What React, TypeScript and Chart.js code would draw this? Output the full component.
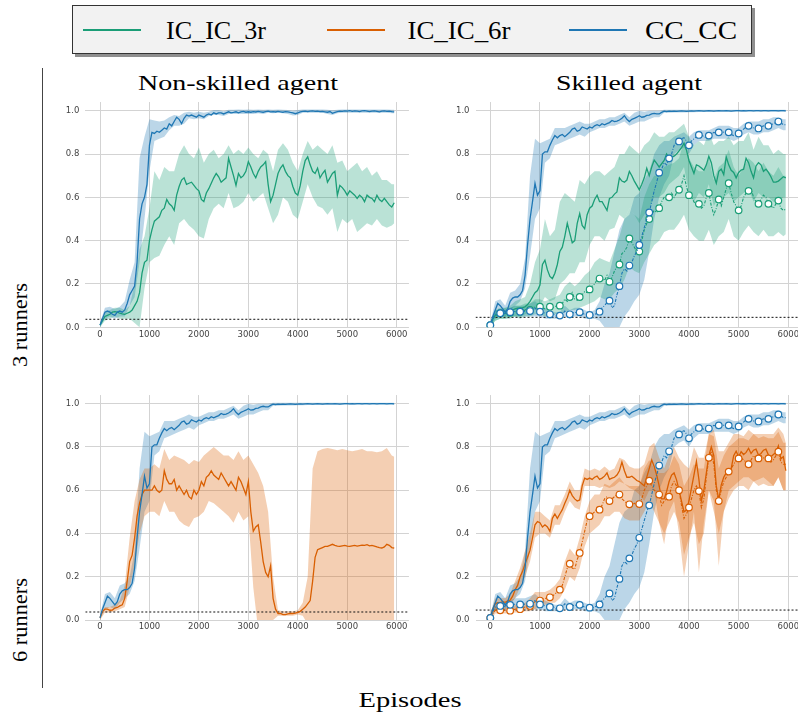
import React, { useEffect, useRef } from "react";
import { Chart, registerables } from "chart.js";

Chart.register(...registerables);

// ---------- categories ----------
const EPISODES: number[] = Array.from({ length: 120 }, (_, i) => i * 50); // 0..5950 (mean lines)
const BAND_EPISODES: number[] = [...Array.from({ length: 60 }, (_, i) => i * 100), 5950]; // 0..5900, 5950
const X_TICKS = [0, 1000, 2000, 3000, 4000, 5000, 6000];
const Y_TICKS = [0, 0.2, 0.4, 0.6, 0.8, 1.0];
const LEGEND_LABELS = ["IC_IC_3r", "IC_IC_6r", "CC_CC"];
const COL_TITLES = ["Non-skilled agent", "Skilled agent"];
const ROW_TITLES = ["3 runners", "6 runners"];
const X_LABEL = "Episodes";

// chance levels (dotted black line)
const CHANCE_NON_SKILLED = 0.037;
const CHANCE_SKILLED = 0.046;

// ---------- CC_CC, non-skilled, 3 runners ----------
const TL_BLUE = [
  0.01, 0.04, 0.07, 0.075, 0.07, 0.06, 0.055, 0.07, 0.075, 0.07,
  0.08, 0.11, 0.15, 0.17, 0.19, 0.3, 0.5, 0.57, 0.6, 0.66,
  0.84, 0.9, 0.895, 0.905, 0.9, 0.91, 0.92, 0.915, 0.94, 0.93,
  0.95, 0.97, 0.96, 0.94, 0.965, 0.98, 0.975, 0.98, 0.975, 0.97,
  0.98, 0.975, 0.97, 0.98, 0.985, 0.98, 0.99, 0.985, 0.99, 0.99,
  0.985, 0.99, 0.995, 0.99, 0.992, 0.995, 0.99, 0.995, 0.997, 0.993,
  0.995, 0.993, 0.996, 0.994, 0.997, 0.995, 0.993, 0.996, 0.998, 0.995,
  0.996, 0.994, 0.997, 0.995, 0.993, 0.996, 0.995, 0.992, 0.99, 0.986,
  0.99, 0.995, 0.997, 0.998, 0.996, 0.998, 0.999, 0.997, 0.998, 0.996,
  0.997, 0.995, 0.993, 0.996, 0.988, 0.992, 0.996, 0.998, 0.997, 0.999,
  0.998, 1.0, 0.997, 0.999, 0.998, 0.996, 0.999, 1.0, 0.998, 0.996,
  0.998, 0.999, 0.997, 0.995, 0.998, 0.999, 0.997, 0.998, 0.996, 0.995,
];
const TL_BLUE_LO = [
  0.0, 0.04, 0.05, 0.04, 0.05, 0.05, 0.1, 0.14, 0.3, 0.5,
  0.72, 0.86, 0.87, 0.88, 0.91, 0.93, 0.93, 0.94, 0.965, 0.96,
  0.965, 0.96, 0.975, 0.98, 0.98, 0.975, 0.985, 0.985, 0.985, 0.985,
  0.985, 0.985, 0.988, 0.985, 0.99, 0.988, 0.99, 0.988, 0.985, 0.978,
  0.98, 0.99, 0.99, 0.99, 0.99, 0.99, 0.985, 0.98, 0.988, 0.99,
  0.99, 0.99, 0.99, 0.99, 0.99, 0.99, 0.99, 0.99, 0.99, 0.988, 0.988,
];
const TL_BLUE_HI = [
  0.02, 0.09, 0.095, 0.085, 0.095, 0.12, 0.22, 0.3, 0.78, 0.88,
  0.96, 0.955, 0.95, 0.955, 0.97, 0.98, 0.975, 0.99, 0.995, 0.99,
  0.995, 0.99, 0.995, 1.003, 1.003, 0.998, 1.004, 1.004, 1.005, 1.004,
  1.005, 1.004, 1.005, 1.004, 1.005, 1.004, 1.005, 1.004, 1.003, 1.0,
  1.003, 1.005, 1.005, 1.005, 1.005, 1.005, 1.004, 1.002, 1.004, 1.005,
  1.005, 1.005, 1.005, 1.005, 1.005, 1.005, 1.005, 1.005, 1.005, 1.004, 1.004,
];

// ---------- IC_IC_3r, non-skilled ----------
const TL_GREEN = [
  0.01, 0.03, 0.05, 0.055, 0.06, 0.07, 0.072, 0.07, 0.065, 0.062,
  0.06, 0.065, 0.07, 0.08, 0.1, 0.12, 0.16, 0.25, 0.3, 0.31,
  0.4, 0.45, 0.49, 0.5, 0.51, 0.54, 0.55, 0.59, 0.57, 0.56,
  0.54, 0.61, 0.65, 0.68, 0.69, 0.66, 0.665, 0.67, 0.655, 0.64,
  0.63, 0.59, 0.58, 0.62, 0.64, 0.665, 0.69, 0.71, 0.695, 0.67,
  0.68, 0.69, 0.78, 0.74, 0.7, 0.655, 0.71, 0.69, 0.7, 0.72,
  0.765, 0.74, 0.71, 0.69, 0.72, 0.74, 0.75, 0.765, 0.66, 0.58,
  0.61, 0.66, 0.71, 0.735, 0.75, 0.72, 0.7, 0.69, 0.65, 0.62,
  0.61, 0.655, 0.72, 0.77, 0.787, 0.75, 0.72, 0.71, 0.735, 0.69,
  0.71, 0.725, 0.67, 0.69, 0.71, 0.72, 0.61, 0.655, 0.645, 0.63,
  0.61, 0.63, 0.62, 0.61, 0.595, 0.61, 0.6, 0.58, 0.61, 0.6,
  0.595, 0.58, 0.61, 0.59, 0.58, 0.595, 0.58, 0.565, 0.555, 0.575,
];
const TL_GREEN_LO = [
  0.0, 0.03, 0.04, 0.05, 0.04, 0.04, 0.04, 0.02, 0.0, 0.18,
  0.3, 0.32, 0.33, 0.38, 0.42, 0.38, 0.48, 0.5, 0.47, 0.45,
  0.42, 0.41, 0.5, 0.55, 0.57, 0.55, 0.62, 0.55, 0.56, 0.58,
  0.62, 0.58, 0.6, 0.62, 0.55, 0.48, 0.52, 0.6, 0.58, 0.52,
  0.5, 0.58, 0.66, 0.6, 0.56, 0.55, 0.52, 0.55, 0.44, 0.5,
  0.48, 0.5, 0.44, 0.46, 0.48, 0.47, 0.5, 0.47, 0.46, 0.47, 0.48,
];
const TL_GREEN_HI = [
  0.02, 0.07, 0.08, 0.09, 0.09, 0.08, 0.1, 0.2, 0.36, 0.42,
  0.55, 0.72, 0.68, 0.74, 0.72, 0.72, 0.8, 0.84, 0.8, 0.78,
  0.83, 0.76, 0.8, 0.82, 0.78, 0.8, 0.84, 0.8, 0.82, 0.8,
  0.83, 0.8, 0.78, 0.82, 0.8, 0.72, 0.82, 0.85, 0.82, 0.76,
  0.72, 0.8, 0.86, 0.82, 0.84, 0.82, 0.8, 0.84, 0.76, 0.77,
  0.72, 0.74, 0.76, 0.72, 0.74, 0.7, 0.72, 0.68, 0.68, 0.66, 0.66,
];

// ---------- CC_CC, skilled (solid) ----------
const CC_SOLID = [
  0.01, 0.05, 0.08, 0.11, 0.1, 0.085, 0.07, 0.085, 0.12, 0.135,
  0.14, 0.14, 0.15, 0.17, 0.24, 0.38, 0.5, 0.58, 0.665, 0.61,
  0.63, 0.8, 0.81, 0.81, 0.84, 0.865, 0.885, 0.875, 0.885, 0.89,
  0.88, 0.89, 0.9, 0.915, 0.92, 0.905, 0.91, 0.925, 0.92, 0.915,
  0.925, 0.92, 0.93, 0.935, 0.93, 0.94, 0.935, 0.94, 0.945, 0.955,
  0.95, 0.952, 0.957, 0.965, 0.977, 0.96, 0.95, 0.96, 0.965, 0.97,
  0.977, 0.97, 0.972, 0.978, 0.98, 0.985, 0.988, 0.985, 0.985, 0.992,
  0.998, 0.996, 0.998, 0.997, 0.998, 0.997, 0.998, 0.999, 0.998, 0.997,
  0.998, 0.999, 0.998, 0.999, 1.0, 0.999, 0.998, 0.999, 1.0, 0.999,
  0.998, 0.999, 1.0, 0.999, 0.999, 1.0, 0.999, 0.998, 0.999, 1.0,
  1.0, 0.999, 1.0, 0.999, 1.0, 1.0, 0.999, 1.0, 1.0, 0.999,
  1.0, 1.0, 0.999, 1.0, 1.0, 1.0, 0.999, 1.0, 1.0, 0.999,
];
const CC_SOLID_LO = [
  0.0, 0.05, 0.06, 0.05, 0.08, 0.1, 0.12, 0.18, 0.33, 0.5,
  0.55, 0.76, 0.78, 0.84, 0.85, 0.86, 0.87, 0.88, 0.89, 0.88,
  0.9, 0.91, 0.92, 0.92, 0.93, 0.93, 0.94, 0.95, 0.93, 0.94,
  0.95, 0.95, 0.96, 0.97, 0.97, 0.99, 0.99, 0.992, 0.992, 0.992,
  0.993, 0.993, 0.994, 0.994, 0.994, 0.994, 0.995, 0.995, 0.995, 0.995,
  0.995, 0.995, 0.995, 0.995, 0.995, 0.995, 0.995, 0.995, 0.995, 0.995, 0.995,
];
const CC_SOLID_HI = [
  0.02, 0.12, 0.13, 0.1, 0.16, 0.17, 0.2, 0.32, 0.7, 0.87,
  0.85, 0.86, 0.87, 0.92, 0.92, 0.92, 0.93, 0.94, 0.95, 0.94,
  0.94, 0.95, 0.96, 0.96, 0.97, 0.97, 0.98, 0.99, 0.97, 0.99,
  1.0, 0.995, 1.0, 1.0, 1.0, 1.004, 1.004, 1.004, 1.004, 1.004,
  1.004, 1.004, 1.004, 1.004, 1.004, 1.004, 1.004, 1.004, 1.004, 1.004,
  1.004, 1.004, 1.004, 1.004, 1.004, 1.004, 1.004, 1.004, 1.004, 1.004, 1.004,
];

// ---------- CC_CC, skilled (dotted, markers) ----------
const CC_DOT = [
  0.01, 0.04, 0.06, 0.065, 0.065, 0.06, 0.065, 0.07, 0.07, 0.065,
  0.075, 0.07, 0.072, 0.08, 0.07, 0.078, 0.075, 0.08, 0.09, 0.075,
  0.072, 0.07, 0.065, 0.07, 0.06, 0.065, 0.055, 0.05, 0.054, 0.06,
  0.075, 0.065, 0.06, 0.065, 0.07, 0.065, 0.07, 0.065, 0.06, 0.06,
  0.057, 0.055, 0.06, 0.065, 0.072, 0.09, 0.1, 0.115, 0.123, 0.09,
  0.1, 0.15, 0.19, 0.25, 0.27, 0.26, 0.285, 0.3, 0.33, 0.35,
  0.38, 0.42, 0.46, 0.5, 0.53, 0.58, 0.63, 0.67, 0.714, 0.73,
  0.76, 0.75, 0.78, 0.8, 0.84, 0.86, 0.858, 0.87, 0.875, 0.86,
  0.84, 0.86, 0.87, 0.88, 0.888, 0.89, 0.88, 0.875, 0.885, 0.89,
  0.9, 0.895, 0.9, 0.905, 0.9, 0.895, 0.9, 0.89, 0.885, 0.89,
  0.895, 0.905, 0.915, 0.925, 0.93, 0.925, 0.92, 0.915, 0.918, 0.925,
  0.93, 0.925, 0.93, 0.935, 0.94, 0.945, 0.95, 0.945, 0.935, 0.935,
];
const CC_DOT_LO = [
  0.0, 0.04, 0.05, 0.05, 0.05, 0.05, 0.05, 0.05, 0.05, 0.05,
  0.05, 0.04, 0.04, 0.04, 0.04, 0.05, 0.04, 0.05, 0.05, 0.04,
  0.04, 0.04, 0.03, 0.0, -0.02, 0.0, 0.0, 0.05, 0.08, 0.12,
  0.15, 0.22, 0.35, 0.5, 0.6, 0.66, 0.7, 0.8, 0.82, 0.83,
  0.8, 0.84, 0.86, 0.86, 0.86, 0.87, 0.87, 0.87, 0.87, 0.86,
  0.87, 0.89, 0.9, 0.89, 0.89, 0.9, 0.9, 0.91, 0.92, 0.91, 0.91,
];
const CC_DOT_HI = [
  0.02, 0.08, 0.08, 0.08, 0.09, 0.1, 0.1, 0.1, 0.11, 0.12,
  0.1, 0.09, 0.08, 0.07, 0.07, 0.1, 0.08, 0.09, 0.09, 0.08,
  0.07, 0.08, 0.12, 0.2, 0.25, 0.35, 0.45, 0.5, 0.52, 0.6,
  0.62, 0.68, 0.72, 0.8, 0.84, 0.86, 0.86, 0.88, 0.89, 0.9,
  0.88, 0.9, 0.91, 0.91, 0.91, 0.92, 0.93, 0.93, 0.93, 0.92,
  0.92, 0.94, 0.95, 0.95, 0.95, 0.96, 0.96, 0.97, 0.97, 0.96, 0.96,
];

// ---------- IC_IC_3r, skilled (solid) ----------
const IC3_SOLID = [
  0.01, 0.04, 0.055, 0.06, 0.058, 0.06, 0.065, 0.07, 0.078, 0.08,
  0.085, 0.088, 0.09, 0.09, 0.095, 0.105, 0.12, 0.14, 0.16, 0.17,
  0.195, 0.29, 0.31, 0.265, 0.235, 0.225, 0.25, 0.29, 0.35, 0.37,
  0.42, 0.48, 0.435, 0.39, 0.4, 0.48, 0.525, 0.47, 0.455, 0.52,
  0.55, 0.56, 0.59, 0.61, 0.58, 0.58, 0.56, 0.54, 0.595, 0.6,
  0.615, 0.625, 0.69, 0.675, 0.67, 0.68, 0.72, 0.7, 0.675, 0.655,
  0.635, 0.66, 0.69, 0.734, 0.7, 0.74, 0.772, 0.757, 0.74, 0.755,
  0.77, 0.8, 0.78, 0.785, 0.79, 0.8, 0.815, 0.83, 0.85, 0.818,
  0.77, 0.74, 0.71, 0.75, 0.745, 0.735, 0.725, 0.75, 0.79, 0.76,
  0.7, 0.665, 0.72, 0.73, 0.705, 0.787, 0.75, 0.725, 0.715, 0.69,
  0.715, 0.726, 0.73, 0.78, 0.76, 0.72, 0.69, 0.745, 0.76, 0.75,
  0.72, 0.73, 0.715, 0.695, 0.67, 0.67, 0.675, 0.685, 0.695, 0.69,
];
const IC3_SOLID_LO = [
  0.0, 0.03, 0.04, 0.04, 0.05, 0.05, 0.05, 0.06, 0.07, 0.08,
  0.1, 0.14, 0.12, 0.13, 0.2, 0.22, 0.25, 0.25, 0.3, 0.3,
  0.38, 0.42, 0.42, 0.4, 0.45, 0.46, 0.52, 0.5, 0.55, 0.52,
  0.48, 0.52, 0.55, 0.6, 0.6, 0.62, 0.66, 0.68, 0.7, 0.74,
  0.62, 0.58, 0.62, 0.6, 0.66, 0.56, 0.6, 0.6, 0.62, 0.58,
  0.6, 0.62, 0.64, 0.58, 0.62, 0.6, 0.6, 0.58, 0.58, 0.6, 0.6,
];
const IC3_SOLID_HI = [
  0.02, 0.08, 0.08, 0.09, 0.1, 0.12, 0.13, 0.14, 0.2, 0.3,
  0.36, 0.5, 0.42, 0.45, 0.58, 0.62, 0.6, 0.58, 0.68, 0.66,
  0.7, 0.72, 0.72, 0.7, 0.72, 0.74, 0.8, 0.8, 0.84, 0.82,
  0.8, 0.84, 0.86, 0.9, 0.88, 0.88, 0.9, 0.9, 0.92, 0.94,
  0.88, 0.84, 0.86, 0.84, 0.9, 0.84, 0.86, 0.86, 0.88, 0.84,
  0.86, 0.86, 0.9, 0.82, 0.88, 0.84, 0.84, 0.8, 0.82, 0.8, 0.8,
];

// ---------- IC_IC_3r, skilled (dotted, markers) ----------
const IC3_DOT = [
  0.01, 0.04, 0.055, 0.06, 0.065, 0.06, 0.065, 0.07, 0.067, 0.065,
  0.07, 0.075, 0.072, 0.07, 0.08, 0.085, 0.08, 0.09, 0.095, 0.1,
  0.095, 0.09, 0.085, 0.09, 0.095, 0.09, 0.095, 0.1, 0.1, 0.11,
  0.13, 0.12, 0.14, 0.16, 0.13, 0.125, 0.14, 0.15, 0.165, 0.16,
  0.175, 0.19, 0.2, 0.22, 0.225, 0.23, 0.215, 0.24, 0.21, 0.23,
  0.26, 0.28, 0.29, 0.34, 0.35, 0.37, 0.41, 0.39, 0.37, 0.35,
  0.35, 0.4, 0.45, 0.48, 0.5, 0.52, 0.54, 0.53, 0.55, 0.58,
  0.6, 0.59, 0.6, 0.62, 0.6, 0.62, 0.635, 0.66, 0.7, 0.65,
  0.61, 0.6, 0.58, 0.56, 0.57, 0.55, 0.56, 0.6, 0.62, 0.56,
  0.52, 0.55, 0.59, 0.56, 0.6, 0.64, 0.665, 0.62, 0.58, 0.56,
  0.54, 0.56, 0.6, 0.62, 0.63, 0.64, 0.6, 0.58, 0.57, 0.59,
  0.61, 0.6, 0.57, 0.56, 0.55, 0.57, 0.585, 0.55, 0.54, 0.545,
];
const IC3_DOT_LO = [
  0.0, 0.03, 0.04, 0.04, 0.04, 0.05, 0.04, 0.05, 0.05, 0.06,
  0.06, 0.05, 0.06, 0.06, 0.06, 0.07, 0.08, 0.08, 0.09, 0.1,
  0.11, 0.12, 0.14, 0.13, 0.13, 0.16, 0.18, 0.22, 0.28, 0.26,
  0.25, 0.3, 0.34, 0.38, 0.4, 0.44, 0.45, 0.45, 0.48, 0.52,
  0.45, 0.42, 0.4, 0.4, 0.45, 0.38, 0.42, 0.44, 0.5, 0.42,
  0.4, 0.44, 0.47, 0.44, 0.42, 0.45, 0.42, 0.42, 0.44, 0.42, 0.43,
];
const IC3_DOT_HI = [
  0.02, 0.08, 0.09, 0.09, 0.09, 0.1, 0.1, 0.11, 0.11, 0.13,
  0.13, 0.12, 0.13, 0.14, 0.15, 0.19, 0.21, 0.19, 0.21, 0.24,
  0.26, 0.3, 0.32, 0.31, 0.3, 0.36, 0.42, 0.5, 0.55, 0.52,
  0.5, 0.6, 0.66, 0.7, 0.7, 0.74, 0.75, 0.76, 0.78, 0.86,
  0.78, 0.74, 0.72, 0.72, 0.78, 0.68, 0.74, 0.76, 0.82, 0.74,
  0.7, 0.74, 0.78, 0.76, 0.72, 0.76, 0.72, 0.7, 0.74, 0.7, 0.7,
];

// ---------- IC_IC_6r, non-skilled ----------
const BL_ORANGE = [
  0.01, 0.04, 0.05, 0.05, 0.045, 0.046, 0.055, 0.058, 0.065, 0.07,
  0.1, 0.18, 0.27, 0.3, 0.38, 0.48, 0.54, 0.58, 0.6, 0.6,
  0.6, 0.6, 0.62, 0.6, 0.59, 0.6, 0.69, 0.65, 0.63, 0.63,
  0.65, 0.6, 0.62, 0.6, 0.58, 0.6, 0.57, 0.56, 0.6, 0.58,
  0.6, 0.64, 0.62, 0.66, 0.67, 0.69, 0.67, 0.66, 0.65, 0.68,
  0.66, 0.64, 0.62, 0.64, 0.62, 0.6, 0.66, 0.64, 0.61, 0.58,
  0.64, 0.5, 0.41, 0.43, 0.44, 0.36, 0.27, 0.22, 0.2, 0.25,
  0.1, 0.05, 0.03, 0.03, 0.025, 0.025, 0.028, 0.03, 0.03, 0.032,
  0.035, 0.04, 0.05, 0.06, 0.075, 0.09, 0.18, 0.29, 0.325, 0.33,
  0.335, 0.34, 0.34, 0.345, 0.35, 0.345, 0.342, 0.34, 0.343, 0.345,
  0.342, 0.34, 0.343, 0.345, 0.342, 0.344, 0.346, 0.345, 0.348, 0.343,
  0.345, 0.342, 0.338, 0.335, 0.333, 0.338, 0.35, 0.345, 0.335, 0.332,
];
const BL_ORANGE_LO = [
  0.0, 0.035, 0.035, 0.04, 0.05, 0.06, 0.15, 0.25, 0.4, 0.48,
  0.5, 0.5, 0.48, 0.55, 0.5, 0.5, 0.46, 0.44, 0.43, 0.47,
  0.48, 0.5, 0.55, 0.54, 0.52, 0.5, 0.48, 0.45, 0.5, 0.46,
  0.48, 0.15, -0.05, -0.1, -0.05, 0.0, 0.02, 0.02, 0.02, 0.02,
  0.025, 0.02, -0.02, -0.15, -0.15, -0.12, -0.12, -0.12, -0.12, -0.12,
  -0.12, -0.12, -0.12, -0.12, -0.12, -0.12, -0.12, -0.12, -0.12, -0.12, -0.12,
];
const BL_ORANGE_HI = [
  0.02, 0.06, 0.06, 0.07, 0.09, 0.16, 0.38, 0.55, 0.65, 0.7,
  0.7, 0.72, 0.7, 0.79, 0.74, 0.76, 0.75, 0.74, 0.72, 0.74,
  0.73, 0.76, 0.78, 0.8, 0.78, 0.76, 0.76, 0.74, 0.78, 0.74,
  0.76, 0.72, 0.68, 0.62, 0.5, 0.2, 0.045, 0.04, 0.04, 0.04,
  0.045, 0.08, 0.2, 0.7, 0.78, 0.79, 0.795, 0.79, 0.785, 0.79,
  0.785, 0.78, 0.785, 0.79, 0.78, 0.78, 0.775, 0.78, 0.795, 0.76, 0.755,
];

// ---------- IC_IC_6r, skilled (solid) ----------
const IC6_SOLID = [
  0.01, 0.05, 0.075, 0.08, 0.08, 0.085, 0.082, 0.088, 0.092, 0.11,
  0.14, 0.16, 0.2, 0.225, 0.26, 0.29, 0.323, 0.38, 0.44, 0.455,
  0.45, 0.43, 0.44, 0.43, 0.41, 0.47, 0.49, 0.47, 0.49, 0.51,
  0.54, 0.565, 0.6, 0.575, 0.56, 0.55, 0.555, 0.62, 0.656, 0.65,
  0.656, 0.65, 0.66, 0.665, 0.65, 0.656, 0.665, 0.68, 0.65, 0.656,
  0.66, 0.67, 0.69, 0.73, 0.69, 0.66, 0.66, 0.665, 0.655, 0.645,
  0.64, 0.63, 0.62, 0.66, 0.7, 0.74, 0.71, 0.67, 0.62, 0.56,
  0.56, 0.594, 0.64, 0.67, 0.68, 0.648, 0.6, 0.55, 0.5, 0.508,
  0.55, 0.61, 0.67, 0.733, 0.65, 0.55, 0.6, 0.68, 0.76, 0.8,
  0.76, 0.62, 0.555, 0.625, 0.66, 0.68, 0.7, 0.7, 0.76, 0.78,
  0.755, 0.778, 0.765, 0.775, 0.794, 0.77, 0.785, 0.79, 0.763, 0.77,
  0.785, 0.79, 0.763, 0.755, 0.765, 0.775, 0.805, 0.745, 0.755, 0.69,
];
const IC6_SOLID_LO = [
  0.0, 0.05, 0.06, 0.06, 0.07, 0.1, 0.15, 0.2, 0.27, 0.38,
  0.4, 0.4, 0.38, 0.44, 0.44, 0.5, 0.55, 0.52, 0.51, 0.62,
  0.62, 0.62, 0.61, 0.62, 0.61, 0.62, 0.64, 0.63, 0.61, 0.6,
  0.58, 0.55, 0.6, 0.6, 0.45, 0.35, 0.5, 0.55, 0.4, 0.2,
  0.35, 0.5, 0.22, 0.45, 0.6, 0.55, 0.25, 0.5, 0.6, 0.62,
  0.64, 0.66, 0.66, 0.64, 0.65, 0.66, 0.64, 0.62, 0.66, 0.6, 0.6,
];
const IC6_SOLID_HI = [
  0.02, 0.1, 0.1, 0.1, 0.12, 0.18, 0.24, 0.32, 0.4, 0.5,
  0.5, 0.48, 0.46, 0.53, 0.53, 0.58, 0.64, 0.6, 0.6, 0.7,
  0.69, 0.7, 0.69, 0.71, 0.69, 0.7, 0.75, 0.74, 0.71, 0.7,
  0.7, 0.72, 0.8, 0.82, 0.75, 0.7, 0.76, 0.8, 0.75, 0.72,
  0.7, 0.8, 0.75, 0.75, 0.86, 0.88, 0.78, 0.78, 0.82, 0.86,
  0.86, 0.85, 0.88, 0.86, 0.86, 0.86, 0.86, 0.86, 0.89, 0.86, 0.82,
];

// ---------- IC_IC_6r, skilled (dotted, markers) ----------
const IC6_DOT = [
  0.01, 0.03, 0.045, 0.05, 0.045, 0.044, 0.045, 0.04, 0.043, 0.045,
  0.05, 0.052, 0.05, 0.055, 0.06, 0.062, 0.065, 0.075, 0.085, 0.09,
  0.09, 0.095, 0.1, 0.1, 0.105, 0.11, 0.12, 0.13, 0.14, 0.16,
  0.2, 0.24, 0.26, 0.24, 0.235, 0.28, 0.31, 0.36, 0.41, 0.46,
  0.48, 0.49, 0.5, 0.52, 0.51, 0.53, 0.56, 0.57, 0.55, 0.56,
  0.57, 0.58, 0.58, 0.56, 0.55, 0.54, 0.535, 0.53, 0.54, 0.53,
  0.536, 0.56, 0.6, 0.62, 0.644, 0.62, 0.6, 0.59, 0.58, 0.53,
  0.55, 0.56, 0.57, 0.62, 0.64, 0.62, 0.6, 0.53, 0.47, 0.49,
  0.52, 0.56, 0.6, 0.62, 0.596, 0.52, 0.56, 0.66, 0.75, 0.78,
  0.72, 0.6, 0.55, 0.6, 0.64, 0.66, 0.686, 0.7, 0.72, 0.74,
  0.747, 0.75, 0.74, 0.73, 0.72, 0.74, 0.76, 0.75, 0.747, 0.76,
  0.75, 0.74, 0.747, 0.73, 0.74, 0.76, 0.778, 0.73, 0.72, 0.72,
];
const IC6_DOT_LO = [
  0.0, 0.03, 0.03, 0.03, 0.03, 0.035, 0.035, 0.04, 0.04, 0.05,
  0.06, 0.07, 0.08, 0.08, 0.1, 0.14, 0.2, 0.18, 0.24, 0.34,
  0.4, 0.42, 0.44, 0.48, 0.48, 0.5, 0.5, 0.47, 0.46, 0.46,
  0.46, 0.5, 0.55, 0.5, 0.45, 0.4, 0.45, 0.5, 0.45, 0.3,
  0.38, 0.45, 0.35, 0.4, 0.6, 0.5, 0.4, 0.5, 0.56, 0.6,
  0.62, 0.62, 0.6, 0.64, 0.62, 0.63, 0.62, 0.62, 0.66, 0.6, 0.6,
];
const IC6_DOT_HI = [
  0.02, 0.06, 0.06, 0.06, 0.06, 0.07, 0.07, 0.08, 0.1, 0.13,
  0.13, 0.13, 0.14, 0.16, 0.19, 0.27, 0.33, 0.3, 0.38, 0.48,
  0.55, 0.58, 0.58, 0.63, 0.62, 0.64, 0.66, 0.63, 0.62, 0.62,
  0.62, 0.7, 0.74, 0.7, 0.68, 0.68, 0.7, 0.76, 0.72, 0.62,
  0.66, 0.72, 0.7, 0.7, 0.86, 0.85, 0.7, 0.76, 0.8, 0.82,
  0.84, 0.84, 0.83, 0.86, 0.84, 0.85, 0.84, 0.84, 0.87, 0.82, 0.82,
];

// ---------- styling / layout ----------
const GREEN = "#1b9e77";
const ORANGE = "#d95f02";
const BLUE = "#1f77b4";
const BAND_ALPHA = 0.3;
const SERIF = '"Liberation Serif", "Times New Roman", serif';

const X_MIN = -297.5;
const X_MAX = 6247.5;
const Y_MIN = 0;
const Y_MAX = 1.04;

// pixel anchors: where x=0 / x=6000 and y=1 / y=0 fall
const COLS = [
  { x0: 100, x6000: 396.7 },
  { x0: 490.3, x6000: 788.3 },
];
const ROWS = [
  { y1: 110.7, y0: 327.3 },
  { y1: 403.7, y0: 620 },
];

type Series = { mean: number[]; lo: number[]; hi: number[]; color: string; dotted: boolean };

function hexA(hex: string, a: number) {
  const r = parseInt(hex.slice(1, 3), 16);
  const g = parseInt(hex.slice(3, 5), 16);
  const b = parseInt(hex.slice(5, 7), 16);
  return `rgba(${r},${g},${b},${a})`;
}

function pts(xs: number[], ys: number[]) {
  return xs.map((x, i) => ({ x, y: ys[i] }));
}

const PANELS: { col: number; row: number; chance: number; series: Series[] }[] = [
  {
    col: 0,
    row: 0,
    chance: CHANCE_NON_SKILLED,
    series: [
      { mean: TL_GREEN, lo: TL_GREEN_LO, hi: TL_GREEN_HI, color: GREEN, dotted: false },
      { mean: TL_BLUE, lo: TL_BLUE_LO, hi: TL_BLUE_HI, color: BLUE, dotted: false },
    ],
  },
  {
    col: 1,
    row: 0,
    chance: CHANCE_SKILLED,
    series: [
      { mean: IC3_SOLID, lo: IC3_SOLID_LO, hi: IC3_SOLID_HI, color: GREEN, dotted: false },
      { mean: IC3_DOT, lo: IC3_DOT_LO, hi: IC3_DOT_HI, color: GREEN, dotted: true },
      { mean: CC_SOLID, lo: CC_SOLID_LO, hi: CC_SOLID_HI, color: BLUE, dotted: false },
      { mean: CC_DOT, lo: CC_DOT_LO, hi: CC_DOT_HI, color: BLUE, dotted: true },
    ],
  },
  {
    col: 0,
    row: 1,
    chance: CHANCE_NON_SKILLED,
    series: [
      { mean: BL_ORANGE, lo: BL_ORANGE_LO, hi: BL_ORANGE_HI, color: ORANGE, dotted: false },
      { mean: CC_SOLID, lo: CC_SOLID_LO, hi: CC_SOLID_HI, color: BLUE, dotted: false },
    ],
  },
  {
    col: 1,
    row: 1,
    chance: CHANCE_SKILLED,
    series: [
      { mean: IC6_SOLID, lo: IC6_SOLID_LO, hi: IC6_SOLID_HI, color: ORANGE, dotted: false },
      { mean: IC6_DOT, lo: IC6_DOT_LO, hi: IC6_DOT_HI, color: ORANGE, dotted: true },
      { mean: CC_SOLID, lo: CC_SOLID_LO, hi: CC_SOLID_HI, color: BLUE, dotted: false },
      { mean: CC_DOT, lo: CC_DOT_LO, hi: CC_DOT_HI, color: BLUE, dotted: true },
    ],
  },
];

function Panel({ col, row, chance, series }: { col: number; row: number; chance: number; series: Series[] }) {
  const ref = useRef<HTMLCanvasElement | null>(null);
  const c = COLS[col];
  const r = ROWS[row];
  const kx = (c.x6000 - c.x0) / 6000;
  const ky = r.y0 - r.y1;
  const L = c.x0 + X_MIN * kx;
  const R = c.x0 + X_MAX * kx;
  const T = r.y0 - Y_MAX * ky;
  const B = r.y0 - Y_MIN * ky;
  const cl = Math.floor(L) - 40;
  const ct = Math.floor(T) - 14;
  const cw = Math.ceil(R) + 3 - cl;
  const ch = Math.ceil(B) + 20 - ct;
  const yAxisW = L - cl;
  const padTop = T - ct;
  const padRight = cl + cw - R;
  const xAxisH = ct + ch - B;

  useEffect(() => {
    if (!ref.current) return;
    const datasets: any[] = [];
    series.forEach((s) => {
      datasets.push({
        data: pts(BAND_EPISODES, s.hi),
        borderWidth: 0,
        borderColor: "rgba(0,0,0,0)",
        pointRadius: 0,
        fill: "+1",
        backgroundColor: hexA(s.color, BAND_ALPHA),
        order: 20,
        clip: 0,
      });
      datasets.push({
        data: pts(BAND_EPISODES, s.lo),
        borderWidth: 0,
        borderColor: "rgba(0,0,0,0)",
        pointRadius: 0,
        fill: false,
        order: 20,
        clip: 0,
      });
    });
    datasets.push({
      data: [
        { x: X_MIN, y: chance },
        { x: X_MAX, y: chance },
      ],
      borderColor: "#111111",
      borderWidth: 1,
      borderDash: [2, 2],
      pointRadius: 0,
      fill: false,
      order: 10,
      clip: 0,
    });
    series.forEach((s, i) => {
      datasets.push({
        data: pts(EPISODES, s.mean),
        borderColor: s.color,
        borderWidth: s.dotted ? 1.1 : 1.3,
        borderDash: s.dotted ? [3, 1.5, 1, 1.5] : [],
        pointRadius: s.dotted ? (ctx: any) => (ctx.dataIndex % 4 === 0 ? 3.3 : 0) : 0,
        pointBackgroundColor: "#ffffff",
        pointBorderColor: s.color,
        pointBorderWidth: 1.2,
        fill: false,
        order: 5 - i * 0.1,
      });
    });
    const tickFont = { family: '"DejaVu Sans", sans-serif', size: 8.5 };
    const chart = new Chart(ref.current, {
      type: "line",
      data: { datasets },
      options: {
        responsive: false,
        animation: false,
        devicePixelRatio: 1,
        parsing: false,
        events: [],
        layout: { autoPadding: false, padding: { left: 0, top: padTop, right: padRight, bottom: 0 } },
        plugins: { legend: { display: false }, tooltip: { enabled: false } },
        elements: { line: { tension: 0 } },
        scales: {
          x: {
            type: "linear",
            min: X_MIN,
            max: X_MAX,
            afterBuildTicks: (s: any) => {
              s.ticks = X_TICKS.map((v) => ({ value: v }));
            },
            afterFit: (s: any) => {
              s.height = xAxisH;
            },
            grid: { color: "#d3d3d3", lineWidth: 1, drawTicks: false },
            border: { display: false },
            ticks: {
              padding: 2,
              font: tickFont,
              color: "#444444",
              maxRotation: 0,
              autoSkip: false,
              callback: (v: any) => String(v),
            },
          },
          y: {
            type: "linear",
            min: Y_MIN,
            max: Y_MAX,
            afterBuildTicks: (s: any) => {
              s.ticks = Y_TICKS.map((v) => ({ value: v }));
            },
            afterFit: (s: any) => {
              s.width = yAxisW;
            },
            grid: { color: "#d3d3d3", lineWidth: 1, drawTicks: false },
            border: { display: false },
            ticks: {
              padding: 6,
              font: tickFont,
              color: "#444444",
              autoSkip: false,
              callback: (v: any) => Number(v).toFixed(1),
            },
          },
        },
      } as any,
    });
    return () => chart.destroy();
  }, []);

  return (
    <canvas
      ref={ref}
      width={cw}
      height={ch}
      style={{ position: "absolute", left: cl, top: ct, width: cw, height: ch }}
    />
  );
}

let measureCtx: CanvasRenderingContext2D | null = null;
function measure(text: string, size: number) {
  if (!measureCtx) measureCtx = document.createElement("canvas").getContext("2d");
  if (!measureCtx) return 0;
  measureCtx.font = `${size}px ${SERIF}`;
  return measureCtx.measureText(text).width;
}

function FitText({ text, cx, cy, size, width, rotate = 0 }: { text: string; cx: number; cy: number; size: number; width: number; rotate?: number }) {
  const w = measure(text, size);
  const sx = w > 0 ? width / w : 1;
  return (
    <div
      style={{
        position: "absolute",
        left: cx,
        top: cy,
        transform: `translate(-50%, -50%) rotate(${rotate}deg) scaleX(${sx})`,
        fontFamily: SERIF,
        fontSize: size,
        lineHeight: 1,
        whiteSpace: "nowrap",
        color: "#000",
      }}
    >
      {text}
    </div>
  );
}

export default function App() {
  const legendColors = [GREEN, ORANGE, BLUE];
  const legendLineX = [83, 327, 569];
  const legendTextCx = [216, 459, 691];
  const legendTextW = [100, 103, 92];
  return (
    <div
      style={{
        position: "absolute",
        left: 0,
        top: 0,
        width: 798,
        height: 714,
        overflow: "hidden",
        background: "#ffffff",
      }}
    >
      {/* legend */}
      <div
        style={{
          position: "absolute",
          left: 72,
          top: 5,
          width: 678,
          height: 47,
          background: "#f2f2f2",
          border: "1px solid #333",
          boxShadow: "3px 3px 0 #8f8f8f",
        }}
      />
      {LEGEND_LABELS.map((lab, i) => (
        <React.Fragment key={lab}>
          <div
            style={{
              position: "absolute",
              left: legendLineX[i],
              top: 29,
              width: 58,
              height: 1.6,
              background: legendColors[i],
            }}
          />
          <FitText text={lab} cx={legendTextCx[i]} cy={30} size={25} width={legendTextW[i]} />
        </React.Fragment>
      ))}

      {/* column titles */}
      <FitText text={COL_TITLES[0]} cx={238} cy={83} size={22} width={200} />
      <FitText text={COL_TITLES[1]} cx={629} cy={83} size={22} width={146} />

      {/* row titles */}
      <div style={{ position: "absolute", left: 42, top: 68, width: 1, height: 620, background: "#444" }} />
      <FitText text={ROW_TITLES[0]} cx={20} cy={325} size={22} width={84} rotate={-90} />
      <FitText text={ROW_TITLES[1]} cx={20} cy={620} size={22} width={84} rotate={-90} />

      {/* x label */}
      <FitText text={X_LABEL} cx={410} cy={700} size={22} width={103} />

      {PANELS.map((p, i) => (
        <Panel key={i} col={p.col} row={p.row} chance={p.chance} series={p.series} />
      ))}
    </div>
  );
}
